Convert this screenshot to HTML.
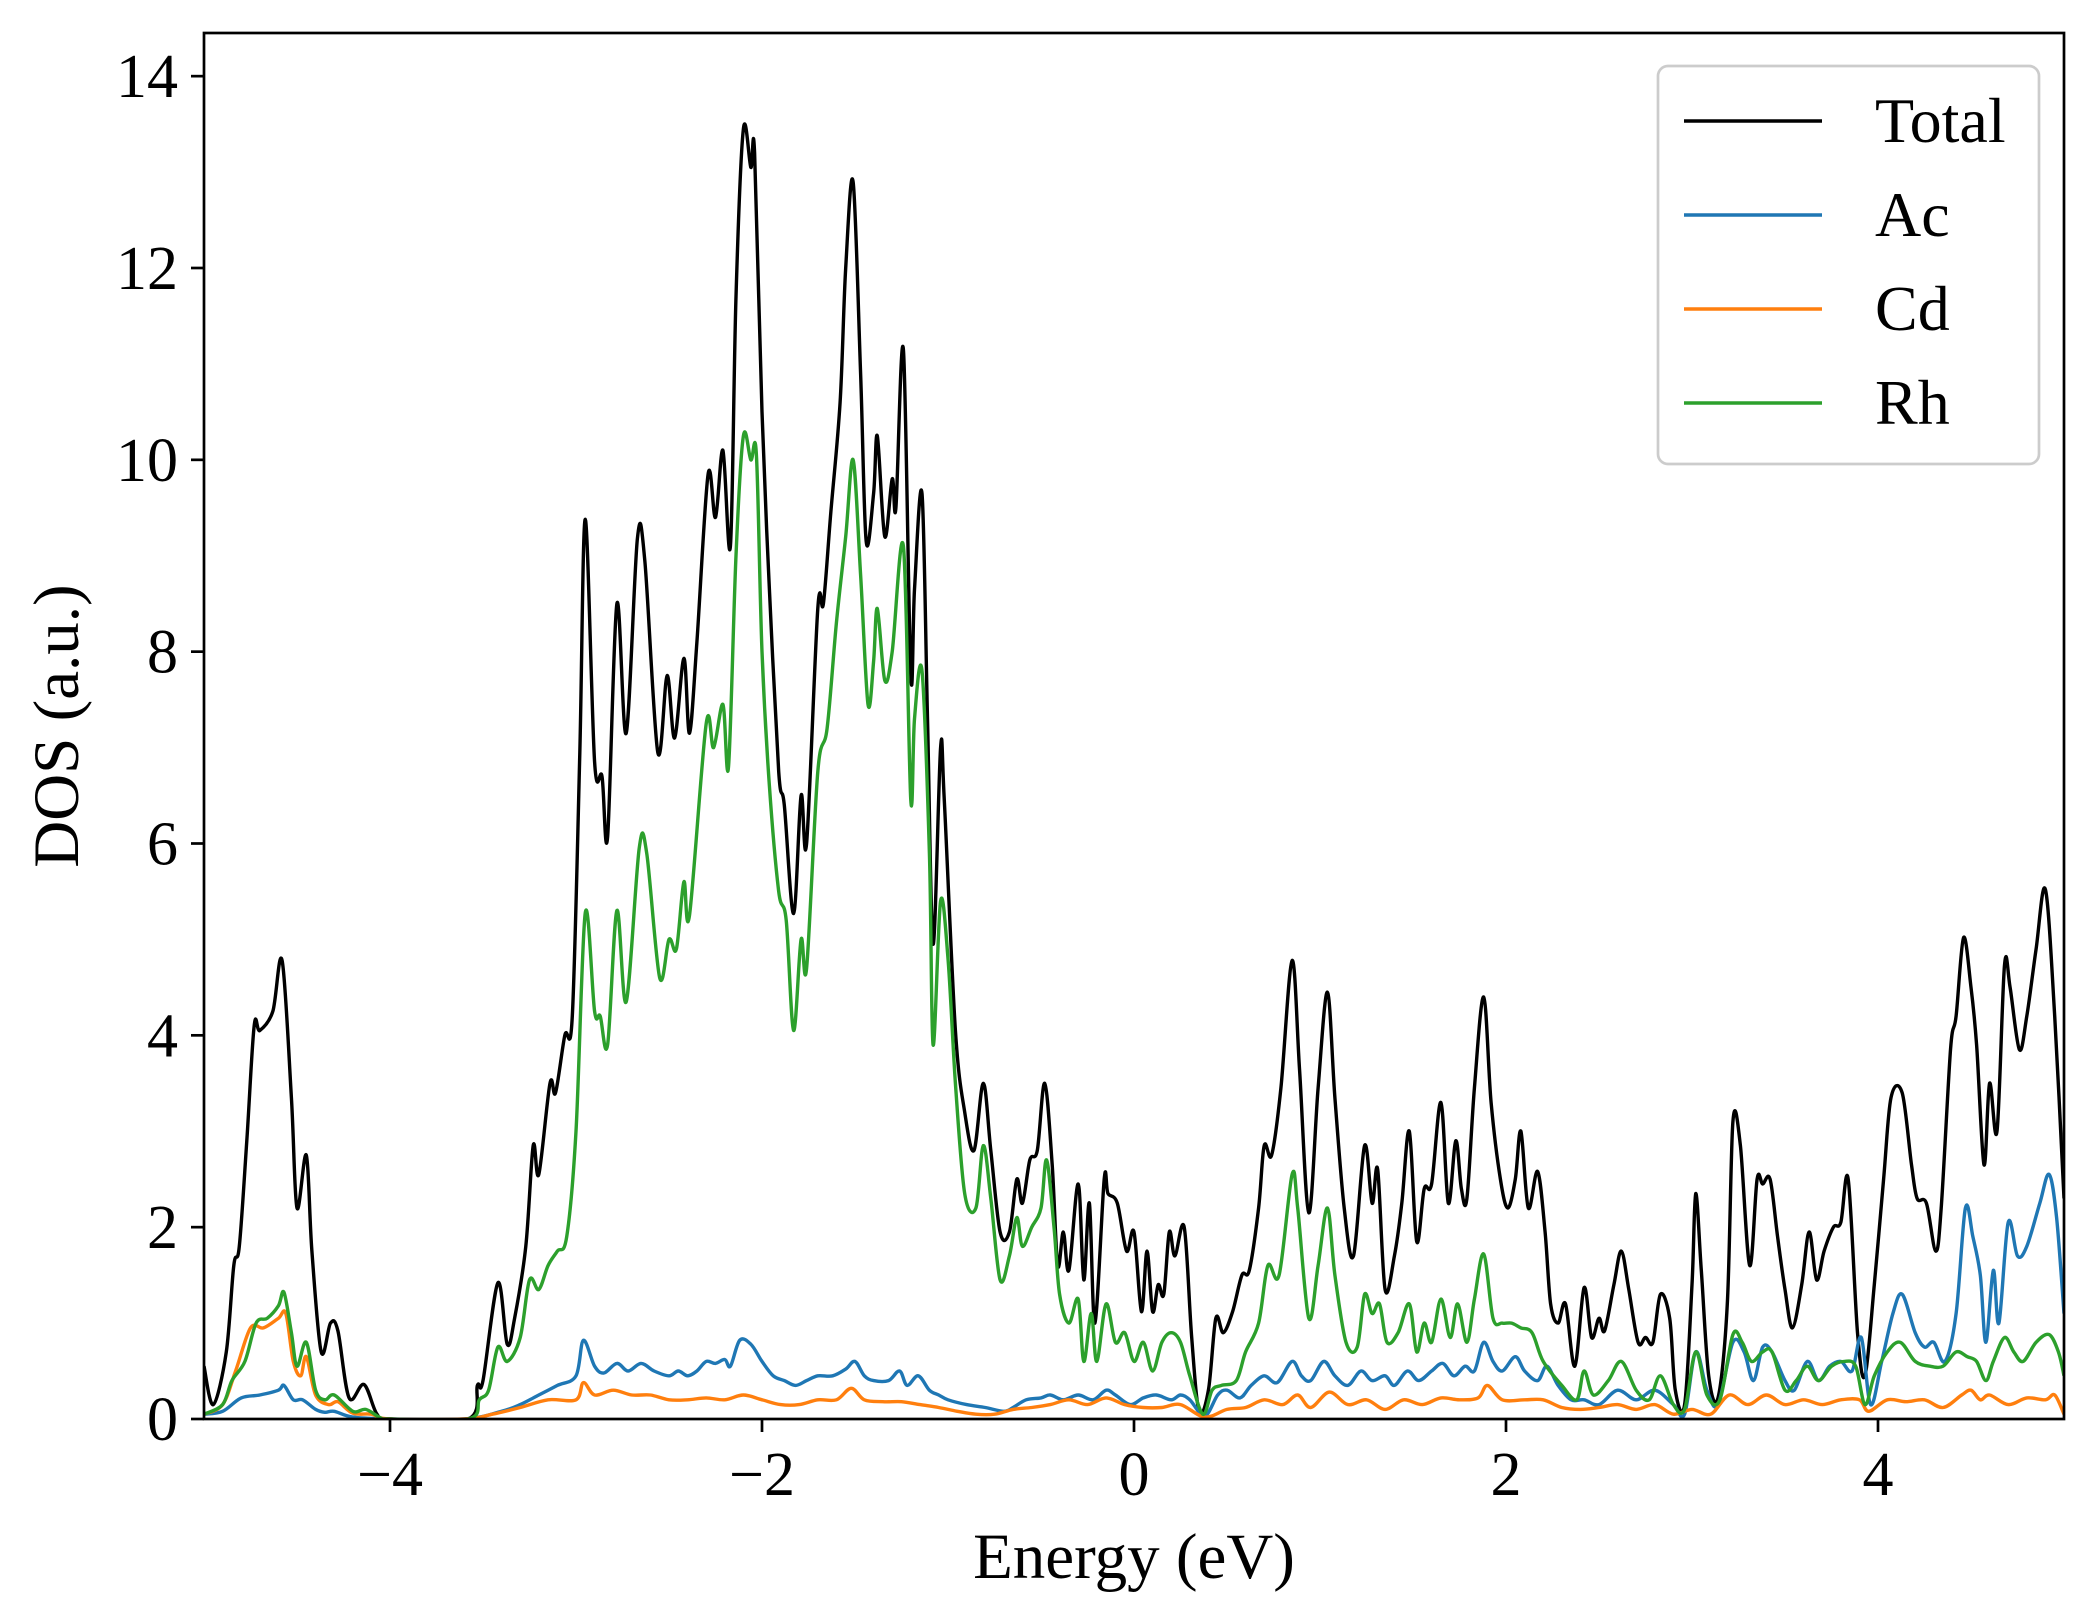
<!DOCTYPE html>
<html><head><meta charset="utf-8"><style>
html,body{margin:0;padding:0;background:#fff}
svg{display:block;font-family:"Liberation Serif","DejaVu Serif",serif}
</style></head><body>
<svg id="chart" width="2097" height="1617" viewBox="0 0 2097 1617" xmlns="http://www.w3.org/2000/svg">
<defs><clipPath id="clip"><rect x="204" y="33" width="1860" height="1386"/></clipPath></defs>
<rect width="2097" height="1617" fill="#fff"/>
<g id="series" clip-path="url(#clip)"></g>
<rect x="204" y="33" width="1860" height="1386" fill="none" stroke="#000" stroke-width="2.7"/>
<g id="xticks"></g>
<g id="yticks"></g>
<text x="1134" y="1578" font-size="65" text-anchor="middle">Energy (eV)</text>
<text transform="translate(78,726) rotate(-90)" font-size="65" text-anchor="middle">DOS (a.u.)</text>
<g>
<rect x="1658" y="66" width="381" height="398" rx="10" fill="#fff" fill-opacity="0.8" stroke="#ccc" stroke-width="2.7"/>
<g><line x1="1684" y1="121" x2="1822" y2="121" stroke="#000" stroke-width="3.4"/><text x="1875" y="142" font-size="64">Total</text></g>
<g><line x1="1684" y1="215" x2="1822" y2="215" stroke="#1f77b4" stroke-width="3.4"/><text x="1875" y="236" font-size="64">Ac</text></g>
<g><line x1="1684" y1="309" x2="1822" y2="309" stroke="#ff7f0e" stroke-width="3.4"/><text x="1875" y="330" font-size="64">Cd</text></g>
<g><line x1="1684" y1="403" x2="1822" y2="403" stroke="#2ca02c" stroke-width="3.4"/><text x="1875" y="424" font-size="64">Rh</text></g>
</g>
</svg>
<script>
const xTicks = [-4, -2, 0, 2, 4];
const yTicks = [0, 2, 4, 6, 8, 10, 12, 14];
const totalE = [-5,-4.95,-4.88,-4.84,-4.81,-4.77,-4.73,-4.70,-4.63,-4.58,-4.53,-4.50,-4.45,-4.42,-4.37,-4.32,-4.28,-4.22,-4.14,-4.07,-4,-3.58,-3.53,-3.50,-3.42,-3.37,-3.33,-3.27,-3.23,-3.20,-3.14,-3.11,-3.06,-3.02,-2.98,-2.95,-2.90,-2.86,-2.83,-2.78,-2.73,-2.67,-2.63,-2.56,-2.51,-2.47,-2.42,-2.39,-2.35,-2.29,-2.25,-2.21,-2.17,-2.14,-2.10,-2.06,-2.04,-2.00,-1.96,-1.91,-1.88,-1.83,-1.79,-1.76,-1.70,-1.67,-1.63,-1.58,-1.55,-1.51,-1.47,-1.44,-1.40,-1.38,-1.34,-1.30,-1.28,-1.24,-1.20,-1.18,-1.14,-1.11,-1.08,-1.04,-1.02,-0.96,-0.91,-0.86,-0.81,-0.77,-0.72,-0.67,-0.63,-0.60,-0.56,-0.52,-0.48,-0.44,-0.41,-0.38,-0.35,-0.30,-0.27,-0.24,-0.21,-0.16,-0.14,-0.09,-0.04,0,0.04,0.07,0.10,0.13,0.16,0.19,0.22,0.27,0.31,0.35,0.40,0.44,0.48,0.53,0.58,0.62,0.67,0.70,0.74,0.79,0.85,0.89,0.94,0.99,1.04,1.08,1.13,1.18,1.24,1.28,1.31,1.35,1.40,1.44,1.48,1.52,1.56,1.60,1.65,1.69,1.73,1.76,1.79,1.83,1.88,1.92,1.97,2.01,2.05,2.08,2.12,2.17,2.21,2.24,2.28,2.32,2.37,2.42,2.46,2.50,2.53,2.58,2.62,2.66,2.71,2.75,2.79,2.83,2.88,2.91,2.96,3.00,3.02,3.05,3.09,3.14,3.19,3.22,3.26,3.31,3.35,3.38,3.42,3.46,3.50,3.54,3.59,3.63,3.67,3.71,3.76,3.80,3.84,3.89,3.93,3.98,4.03,4.07,4.13,4.18,4.21,4.26,4.31,4.34,4.39,4.42,4.46,4.50,4.53,4.57,4.60,4.64,4.68,4.71,4.76,4.80,4.85,4.90,4.95,5.0];
const totalV = [0.55,0.15,0.7,1.6,1.8,2.9,4.1,4.05,4.25,4.78,3.35,2.2,2.75,1.75,0.7,1.0,0.92,0.22,0.36,0.05,0,0,0.35,0.4,1.42,0.78,1.05,1.8,2.85,2.55,3.5,3.4,4.0,4.2,6.9,9.38,6.85,6.7,6.07,8.5,7.15,9.18,8.95,6.95,7.75,7.1,7.93,7.15,8.1,9.85,9.4,10.1,9.1,11.7,13.45,13.05,13.2,10.5,8.65,6.75,6.4,5.27,6.5,6.0,8.45,8.5,9.45,10.6,12.0,12.9,10.9,9.15,9.65,10.25,9.2,9.8,9.5,11.15,7.75,8.65,9.65,7.3,4.95,7.0,6.45,4.05,3.2,2.8,3.5,2.8,1.95,1.95,2.5,2.25,2.7,2.8,3.5,2.65,1.6,1.95,1.55,2.45,1.45,2.25,1.0,2.5,2.35,2.25,1.75,1.95,1.12,1.75,1.12,1.4,1.3,1.95,1.7,2.0,0.85,0.08,0.3,1.05,0.9,1.12,1.5,1.55,2.2,2.85,2.75,3.45,4.78,3.65,2.15,3.45,4.45,3.35,2.2,1.7,2.85,2.25,2.6,1.35,1.7,2.25,3.0,1.85,2.4,2.45,3.3,2.25,2.9,2.4,2.3,3.45,4.4,3.3,2.5,2.2,2.5,3.0,2.2,2.58,1.95,1.2,1.0,1.2,0.55,1.37,0.85,1.05,0.92,1.4,1.75,1.35,0.8,0.85,0.8,1.3,1.05,0.3,0.15,1.4,2.35,1.55,0.45,0.22,1.2,3.1,2.85,1.6,2.5,2.45,2.5,1.9,1.35,0.95,1.4,1.95,1.45,1.75,2.0,2.05,2.5,0.9,0.45,1.4,2.5,3.35,3.4,2.65,2.3,2.25,1.75,2.2,3.85,4.2,5.02,4.5,3.9,2.65,3.5,3.0,4.73,4.5,3.85,4.2,4.9,5.52,4.2,2.3];
const rhE = [-5,-4.9,-4.85,-4.78,-4.72,-4.66,-4.6,-4.57,-4.53,-4.5,-4.45,-4.4,-4.35,-4.3,-4.2,-4.13,-4.05,-4,-3.58,-3.52,-3.47,-3.42,-3.37,-3.3,-3.25,-3.2,-3.15,-3.1,-3.05,-3.0,-2.95,-2.9,-2.87,-2.83,-2.78,-2.73,-2.66,-2.62,-2.55,-2.5,-2.46,-2.42,-2.39,-2.3,-2.26,-2.21,-2.18,-2.14,-2.1,-2.06,-2.03,-2.0,-1.96,-1.91,-1.87,-1.83,-1.79,-1.76,-1.7,-1.65,-1.6,-1.55,-1.51,-1.47,-1.43,-1.4,-1.38,-1.34,-1.3,-1.24,-1.2,-1.18,-1.14,-1.1,-1.08,-1.04,-1.0,-0.96,-0.91,-0.85,-0.81,-0.77,-0.72,-0.67,-0.63,-0.6,-0.55,-0.5,-0.47,-0.43,-0.4,-0.35,-0.3,-0.27,-0.23,-0.2,-0.15,-0.1,-0.05,0,0.05,0.1,0.15,0.2,0.25,0.3,0.37,0.42,0.47,0.55,0.6,0.67,0.72,0.78,0.85,0.88,0.94,0.99,1.04,1.08,1.14,1.2,1.24,1.28,1.32,1.36,1.42,1.48,1.52,1.56,1.6,1.65,1.7,1.74,1.79,1.83,1.88,1.93,1.98,2.03,2.08,2.14,2.2,2.3,2.38,2.42,2.47,2.55,2.62,2.7,2.77,2.83,2.9,2.96,3.02,3.08,3.15,3.22,3.27,3.32,3.38,3.43,3.5,3.56,3.62,3.68,3.75,3.82,3.88,3.93,3.98,4.05,4.12,4.2,4.28,4.35,4.42,4.48,4.53,4.58,4.62,4.68,4.73,4.78,4.85,4.92,4.97,5.0];
const rhV = [0.05,0.15,0.4,0.6,1.0,1.05,1.18,1.32,0.9,0.55,0.8,0.3,0.2,0.25,0.08,0.1,0.01,0,0,0.2,0.3,0.75,0.6,0.85,1.45,1.35,1.6,1.75,1.9,3.0,5.28,4.25,4.2,3.9,5.3,4.35,5.95,5.9,4.6,5.0,4.9,5.6,5.25,7.25,7.0,7.45,6.8,9.0,10.25,10.0,10.05,8.0,6.6,5.5,5.2,4.05,5.0,4.7,6.75,7.2,8.3,9.2,10.0,8.8,7.45,7.9,8.45,7.7,8.0,9.1,6.45,7.3,7.8,5.9,3.9,5.4,4.8,3.5,2.35,2.2,2.85,2.3,1.45,1.7,2.1,1.8,2.0,2.2,2.7,2.0,1.3,1.0,1.25,0.6,1.1,0.6,1.2,0.8,0.9,0.6,0.8,0.5,0.8,0.9,0.8,0.45,0.05,0.3,0.35,0.4,0.7,1.0,1.6,1.5,2.55,2.2,1.05,1.6,2.2,1.5,0.8,0.75,1.3,1.1,1.2,0.8,0.9,1.2,0.7,1.0,0.8,1.25,0.85,1.2,0.8,1.25,1.72,1.05,1.0,1.0,0.95,0.9,0.6,0.35,0.2,0.5,0.25,0.4,0.6,0.3,0.2,0.45,0.15,0.1,0.7,0.25,0.2,0.88,0.8,0.6,0.7,0.7,0.3,0.4,0.55,0.4,0.55,0.6,0.55,0.15,0.45,0.7,0.8,0.6,0.55,0.55,0.7,0.65,0.6,0.4,0.6,0.85,0.7,0.6,0.8,0.88,0.7,0.45];
const acE = [-5,-4.9,-4.8,-4.7,-4.6,-4.57,-4.52,-4.47,-4.4,-4.35,-4.3,-4.2,-4,-3.6,-3.4,-3.3,-3.2,-3.1,-3.0,-2.96,-2.9,-2.85,-2.78,-2.72,-2.65,-2.58,-2.5,-2.45,-2.4,-2.35,-2.3,-2.25,-2.2,-2.17,-2.12,-2.06,-2.0,-1.94,-1.88,-1.82,-1.76,-1.7,-1.62,-1.55,-1.5,-1.45,-1.4,-1.32,-1.26,-1.22,-1.16,-1.1,-1.05,-1.0,-0.9,-0.8,-0.7,-0.65,-0.58,-0.5,-0.45,-0.38,-0.3,-0.22,-0.15,-0.1,-0.02,0.05,0.12,0.2,0.25,0.3,0.38,0.45,0.5,0.57,0.63,0.7,0.77,0.85,0.9,0.95,1.02,1.08,1.15,1.22,1.28,1.35,1.4,1.47,1.53,1.6,1.66,1.72,1.78,1.83,1.88,1.93,1.98,2.05,2.1,2.17,2.22,2.28,2.35,2.42,2.5,2.6,2.7,2.8,2.9,2.96,3.02,3.08,3.14,3.22,3.28,3.33,3.38,3.43,3.5,3.55,3.62,3.68,3.74,3.8,3.86,3.91,3.96,4.02,4.08,4.13,4.2,4.25,4.3,4.36,4.42,4.47,4.51,4.55,4.58,4.62,4.65,4.7,4.75,4.8,4.87,4.92,4.96,5.0];
const acV = [0.05,0.08,0.22,0.25,0.3,0.35,0.2,0.2,0.1,0.07,0.08,0.02,0,0,0.08,0.15,0.25,0.35,0.45,0.82,0.55,0.48,0.58,0.5,0.58,0.5,0.45,0.5,0.45,0.5,0.6,0.58,0.62,0.55,0.82,0.78,0.6,0.45,0.4,0.35,0.4,0.45,0.45,0.52,0.6,0.45,0.4,0.4,0.5,0.35,0.45,0.3,0.25,0.2,0.15,0.12,0.08,0.12,0.2,0.22,0.25,0.2,0.25,0.2,0.3,0.25,0.15,0.22,0.25,0.2,0.25,0.2,0.03,0.25,0.3,0.22,0.35,0.45,0.38,0.6,0.45,0.4,0.6,0.45,0.35,0.5,0.4,0.45,0.35,0.5,0.4,0.5,0.58,0.45,0.55,0.5,0.8,0.6,0.5,0.65,0.5,0.4,0.55,0.35,0.2,0.2,0.15,0.3,0.2,0.3,0.15,0.05,0.7,0.3,0.15,0.8,0.7,0.4,0.75,0.7,0.4,0.3,0.6,0.4,0.55,0.6,0.5,0.85,0.15,0.6,1.1,1.3,0.9,0.75,0.8,0.6,1.1,2.2,1.9,1.5,0.8,1.55,1.0,2.05,1.7,1.8,2.25,2.55,2.1,1.1];
const cdE = [-5,-4.9,-4.83,-4.75,-4.68,-4.6,-4.56,-4.52,-4.48,-4.45,-4.4,-4.33,-4.28,-4.2,-4.1,-4,-3.6,-3.45,-3.3,-3.15,-3.0,-2.96,-2.9,-2.8,-2.7,-2.6,-2.5,-2.4,-2.3,-2.2,-2.1,-2.0,-1.9,-1.8,-1.7,-1.6,-1.52,-1.45,-1.35,-1.25,-1.15,-1.05,-0.95,-0.85,-0.75,-0.65,-0.55,-0.45,-0.35,-0.25,-0.15,-0.05,0.05,0.15,0.25,0.38,0.5,0.6,0.7,0.8,0.88,0.95,1.05,1.15,1.25,1.35,1.45,1.55,1.65,1.75,1.85,1.9,1.98,2.1,2.2,2.3,2.4,2.5,2.6,2.7,2.8,2.9,3.0,3.1,3.2,3.3,3.4,3.5,3.6,3.7,3.8,3.9,3.95,4.05,4.15,4.25,4.35,4.45,4.5,4.55,4.6,4.7,4.8,4.9,4.95,5.0];
const cdV = [0.05,0.15,0.5,0.95,0.95,1.05,1.1,0.6,0.45,0.65,0.25,0.15,0.18,0.06,0.05,0,0,0.05,0.12,0.2,0.2,0.38,0.25,0.3,0.25,0.25,0.2,0.2,0.22,0.2,0.25,0.2,0.15,0.15,0.2,0.2,0.32,0.2,0.18,0.18,0.15,0.12,0.08,0.05,0.05,0.1,0.12,0.15,0.2,0.15,0.22,0.15,0.12,0.12,0.15,0.02,0.1,0.12,0.2,0.15,0.25,0.12,0.28,0.15,0.2,0.1,0.2,0.15,0.22,0.2,0.22,0.35,0.2,0.2,0.2,0.12,0.1,0.12,0.15,0.1,0.15,0.05,0.1,0.05,0.25,0.15,0.25,0.15,0.2,0.15,0.2,0.2,0.08,0.2,0.18,0.2,0.12,0.25,0.3,0.2,0.25,0.15,0.22,0.2,0.25,0.05];

const X0=204,X1=2064,Y0=1419,Y1=33,XMIN=-5,XMAX=5,YMIN=0,YMAX=14.45;
function xs(e){return X0+(e-XMIN)/(XMAX-XMIN)*(X1-X0);}
function ys(v){return Y0-(v-YMIN)/(YMAX-YMIN)*(Y0-Y1);}
const NS="http://www.w3.org/2000/svg";
function pathFor(E,V){
  const p=E.map((e,i)=>[xs(e),ys(V[i])]);
  let d="M"+p[0][0].toFixed(1)+","+p[0][1].toFixed(1);
  for(let i=0;i<p.length-1;i++){
    const a=p[i-1]||p[i],b=p[i],c=p[i+1],n=p[i+2]||c;
    const c1=[b[0]+(c[0]-a[0])/6,b[1]+(c[1]-a[1])/6];
    const c2=[c[0]-(n[0]-b[0])/6,c[1]-(n[1]-b[1])/6];
    d+="C"+c1[0].toFixed(1)+","+c1[1].toFixed(1)+" "+c2[0].toFixed(1)+","+c2[1].toFixed(1)+" "+c[0].toFixed(1)+","+c[1].toFixed(1);
  }
  return d;
}
const g=document.getElementById("series");
function addLine(E,V,color,name){
  const el=document.createElementNS(NS,"path");
  el.setAttribute("d",pathFor(E,V));
  el.setAttribute("fill","none");
  el.setAttribute("stroke",color);
  el.setAttribute("stroke-width","3.4");
  el.setAttribute("stroke-linejoin","round");
  
  
  g.appendChild(el);
}
addLine(totalE,totalV,"#000","total-line");
addLine(acE,acV,"#1f77b4","ac-line");
addLine(cdE,cdV,"#ff7f0e","cd-line");
addLine(rhE,rhV,"#2ca02c","rh-line");

const xg=document.getElementById("xticks");
xTicks.forEach(t=>{
  const l=document.createElementNS(NS,"line");
  l.setAttribute("x1",xs(t));l.setAttribute("x2",xs(t));
  l.setAttribute("y1",Y0);l.setAttribute("y2",Y0+13);
  l.setAttribute("stroke","#000");l.setAttribute("stroke-width","2.7");
  
  
  xg.appendChild(l);
  const tx=document.createElementNS(NS,"text");
  tx.setAttribute("x",xs(t));tx.setAttribute("y",Y0+76);
  tx.setAttribute("font-size","62");tx.setAttribute("text-anchor","middle");
  tx.textContent=t<0?"\u2212"+Math.abs(t):String(t);
  
  
  xg.appendChild(tx);
});
const yg=document.getElementById("yticks");
yTicks.forEach(t=>{
  const l=document.createElementNS(NS,"line");
  l.setAttribute("x1",X0-13);l.setAttribute("x2",X0);
  l.setAttribute("y1",ys(t));l.setAttribute("y2",ys(t));
  l.setAttribute("stroke","#000");l.setAttribute("stroke-width","2.7");
  
  
  yg.appendChild(l);
  const tx=document.createElementNS(NS,"text");
  tx.setAttribute("x",X0-26);tx.setAttribute("y",ys(t)+21);
  tx.setAttribute("font-size","62");tx.setAttribute("text-anchor","end");
  tx.textContent=String(t);
  
  
  yg.appendChild(tx);
});
</script>
</body></html>
